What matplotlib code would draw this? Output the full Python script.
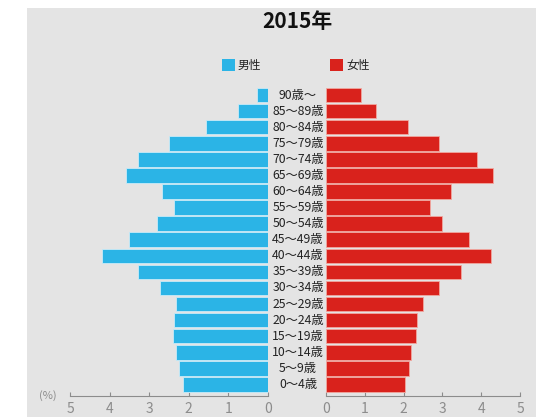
import matplotlib.pyplot as plt
from matplotlib.patches import Rectangle

plt.rcParams["font.family"] = ["Noto Sans CJK JP", "DejaVu Sans"]

ages = ["0～4歳", "5～9歳", "10～14歳", "15～19歳", "20～24歳", "25～29歳",
        "30～34歳", "35～39歳", "40～44歳", "45～49歳", "50～54歳", "55～59歳",
        "60～64歳", "65～69歳", "70～74歳", "75～79歳", "80～84歳", "85～89歳",
        "90歳～"]
male = [2.15, 2.25, 2.32, 2.40, 2.37, 2.32, 2.73, 3.28, 4.19, 3.51,
        2.80, 2.37, 2.68, 3.59, 3.28, 2.50, 1.57, 0.76, 0.28]
female = [2.04, 2.14, 2.19, 2.32, 2.35, 2.50, 2.91, 3.48, 4.25, 3.69,
          2.99, 2.68, 3.22, 4.30, 3.89, 2.91, 2.11, 1.29, 0.90]
ticks = [0, 1, 2, 3, 4, 5]

W, H = 540, 417
bg = "#e4e4e4"
blue = "#2bb4e6"
red = "#d9221c"
gray = "#8c8c8c"

fig = plt.figure(figsize=(W / 100, H / 100), dpi=100)
fig.patch.set_facecolor("white")
fig.patches.append(Rectangle((27 / W, 0), (536 - 27) / W, (H - 8) / H,
                             transform=fig.transFigure, facecolor=bg,
                             edgecolor="none", zorder=-5))

y = list(range(len(ages)))
bottom = (H - 396) / H
height = (396 - 87) / H
axl = fig.add_axes([70 / W, bottom, (268 - 70) / W, height])
axr = fig.add_axes([326 / W, bottom, (520 - 326) / W, height])

axl.barh(y, male, height=0.9, color=blue, edgecolor="#c8ebf8", linewidth=0.6, zorder=3)
axr.barh(y, female, height=0.9, color=red, edgecolor="#f0a8a0", linewidth=0.6, zorder=3)

axl.set_xlim(5, 0)
axr.set_xlim(0, 5)
for ax in (axl, axr):
    ax.set_ylim(-0.72, 18.5)
    ax.set_facecolor("none")
    ax.set_yticks([])
    ax.set_xticks(ticks)
    ax.set_xticklabels([str(t) for t in ticks])
    for s in ("top", "left", "right"):
        ax.spines[s].set_visible(False)
    ax.spines["bottom"].set_color(gray)
    ax.spines["bottom"].set_linewidth(0.8)
    ax.tick_params(axis="x", direction="in", length=3, color=gray,
                   labelcolor=gray, labelsize=10, pad=4)

# age labels sit in the gap between the halves, under the bars
for i, lab in enumerate(ages):
    axl.annotate(lab, xy=(0, i), xytext=(30, 0), textcoords="offset pixels",
                 ha="center", va="center", fontsize=8.8, color="#222222",
                 zorder=1, annotation_clip=False)

fig.text(297 / W, 1 - 22 / H, "2015年", ha="center", va="center",
         fontsize=15, fontweight="bold", color="#111111")

# legend
fig.patches.append(Rectangle((222 / W, 1 - 71 / H), 13 / W, 12 / H,
                             transform=fig.transFigure, facecolor=blue, edgecolor="none"))
fig.text(238 / W, 1 - 65 / H, "男性", ha="left", va="center", fontsize=8.5, color="#222222")
fig.patches.append(Rectangle((330 / W, 1 - 71 / H), 13 / W, 12 / H,
                             transform=fig.transFigure, facecolor=red, edgecolor="none"))
fig.text(346 / W, 1 - 65 / H, "女性", ha="left", va="center", fontsize=8.5, color="#222222")

fig.text(48 / W, 1 - 396 / H, "(%)", ha="center", va="center", fontsize=8, color=gray)

plt.savefig("out.png", dpi=100, facecolor=fig.get_facecolor())
